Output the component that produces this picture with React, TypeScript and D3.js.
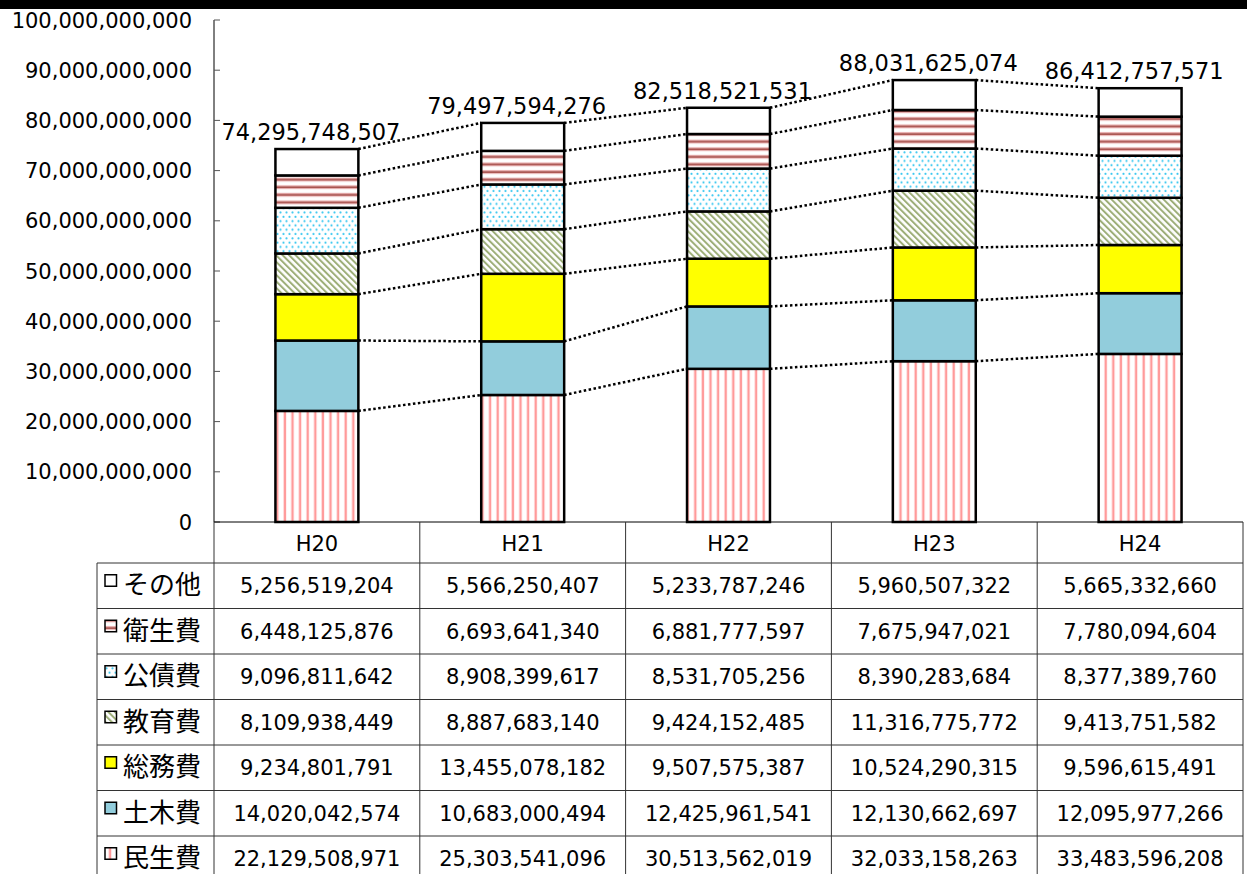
import { useMemo } from "react"
import * as d3 from "d3"

// fiscal years (columns)
const years = ["H20", "H21", "H22", "H23", "H24"]

// categories, stacked bottom -> top
const categories = ["民生費", "土木費", "総務費", "教育費", "公債費", "衛生費", "その他"]

const minsei = [22129508971, 25303541096, 30513562019, 32033158263, 33483596208]
const doboku = [14020042574, 10683000494, 12425961541, 12130662697, 12095977266]
const soumu = [9234801791, 13455078182, 9507575387, 10524290315, 9596615491]
const kyouiku = [8109938449, 8887683140, 9424152485, 11316775772, 9413751582]
const kousai = [9096811642, 8908399617, 8531705256, 8390283684, 8377389760]
const eisei = [6448125876, 6693641340, 6881777597, 7675947021, 7780094604]
const sonota = [5256519204, 5566250407, 5233787246, 5960507322, 5665332660]

const totals = [74295748507, 79497594276, 82518521531, 88031625074, 86412757571]

const yTicks = [0, 1e10, 2e10, 3e10, 4e10, 5e10, 6e10, 7e10, 8e10, 9e10, 1e11]

const seriesValues = [minsei, doboku, soumu, kyouiku, kousai, eisei, sonota]

const fills: Record<string, string> = {
  民生費: "url(#pMinsei)",
  土木費: "#92CDDC",
  総務費: "#FFFF00",
  教育費: "url(#pKyouiku)",
  公債費: "url(#pKousai)",
  衛生費: "url(#pEisei)",
  その他: "#FFFFFF",
}

const W = 1247
const H = 874
const numFont = "'DejaVu Sans', 'Liberation Sans', sans-serif"
const jpFont = "'Noto Sans CJK JP', 'Noto Sans', sans-serif"
const fmt = d3.format(",")

export default function App() {
  const left = 214
  const right = 1243
  const baseY = 522
  const topY = 20

  const y = d3.scaleLinear().domain([0, 1e11]).range([baseY, topY])
  const x = d3.scaleBand<string>().domain(years).range([left, right]).padding(0)
  const barW = x.bandwidth() * 0.403

  const table = useMemo(
    () =>
      years.map((yr, i) => {
        const row: Record<string, number | string> = { year: yr }
        categories.forEach((c, k) => (row[c] = seriesValues[k][i]))
        return row
      }),
    []
  )
  const stacked = d3.stack<Record<string, number | string>>().keys(categories)(table as any)

  const barX = (yr: string) => (x(yr) as number) + (x.bandwidth() - barW) / 2

  // table rows (top -> bottom)
  const rowOrder = [...categories].reverse()
  const headerBottom = 563
  const rowH = 45.5
  const labelLeft = 97

  return (
    <svg
      width={W}
      height={H}
      style={{ position: "absolute", left: 0, top: 0, background: "#fff" }}
    >
      <defs>
        <pattern id="pMinsei" width={7.6} height={10} patternUnits="userSpaceOnUse">
          <rect width={7.6} height={10} fill="#fff" />
          <rect x={2.5} width={2.4} height={10} fill="#FF9A9A" />
        </pattern>
        <pattern id="pEisei" width={10} height={7.6} patternUnits="userSpaceOnUse">
          <rect width={10} height={7.6} fill="#fff" />
          <rect y={2.8} width={10} height={1.2} fill="#E8B0B0" />
          <rect y={4} width={10} height={1.8} fill="#A8504C" />
          <rect y={5.8} width={10} height={1} fill="#E8B0B0" />
        </pattern>
        <pattern id="pKousai" width={6} height={8.6} patternUnits="userSpaceOnUse">
          <rect width={6} height={8.6} fill="#fff" />
          <circle cx={1.5} cy={1.8} r={1.1} fill="#3CC8F0" />
          <circle cx={4.5} cy={6.1} r={1.1} fill="#3CC8F0" />
        </pattern>
        <pattern
          id="pKyouiku"
          width={4.6}
          height={10}
          patternUnits="userSpaceOnUse"
          patternTransform="rotate(-45)"
        >
          <rect width={4.6} height={10} fill="#fff" />
          <rect width={2} height={10} fill="#9DAE78" />
        </pattern>
      </defs>

      {/* top black band */}
      <rect x={0} y={0} width={W} height={9} fill="#000" />

      {/* y axis */}
      <line x1={left} x2={left} y1={topY} y2={baseY} stroke="#000" strokeWidth={1} />
      {yTicks.map((t) => (
        <g key={t}>
          <line x1={left} x2={left + 6} y1={y(t)} y2={y(t)} stroke="#555" strokeWidth={1} />
          <text
            x={192}
            y={y(t)}
            dy="0.36em"
            textAnchor="end"
            fontFamily={numFont}
            fontSize={21}
            fill="#000"
          >
            {fmt(t)}
          </text>
        </g>
      ))}

      {/* dotted connector lines between bars */}
      {stacked.map((s) =>
        years.slice(0, -1).map((yr, i) => (
          <line
            key={s.key + yr}
            x1={barX(yr) + barW}
            y1={y(s[i][1])}
            x2={barX(years[i + 1])}
            y2={y(s[i + 1][1])}
            stroke="#000"
            strokeWidth={2.5}
            strokeDasharray="2.5,2.5"
          />
        ))
      )}

      {/* stacked bars */}
      {stacked.map((s) =>
        s.map((d, i) => (
          <rect
            key={s.key + i}
            x={barX(years[i])}
            y={y(d[1])}
            width={barW}
            height={y(d[0]) - y(d[1])}
            fill={fills[s.key]}
            stroke="#000"
            strokeWidth={2.5}
          />
        ))
      )}

      {/* totals */}
      {years.map((yr, i) => (
        <text
          key={"t" + yr}
          x={(x(yr) as number) + x.bandwidth() / 2 - 6}
          y={y(totals[i]) - 9}
          textAnchor="middle"
          fontFamily={numFont}
          fontSize={22.5}
          fill="#000"
        >
          {fmt(totals[i])}
        </text>
      ))}

      {/* data table */}
      <g stroke="#333" strokeWidth={1}>
        <line x1={left} x2={right} y1={baseY} y2={baseY} stroke="#000" />
        {rowOrder.map((_, r) => (
          <line
            key={"h" + r}
            x1={labelLeft}
            x2={right}
            y1={headerBottom + r * rowH}
            y2={headerBottom + r * rowH}
          />
        ))}
        <line x1={labelLeft} x2={labelLeft} y1={headerBottom} y2={H} />
        <line x1={left} x2={left} y1={baseY} y2={H} />
        {years.map((yr) => (
          <line
            key={"v" + yr}
            x1={(x(yr) as number) + x.bandwidth()}
            x2={(x(yr) as number) + x.bandwidth()}
            y1={baseY}
            y2={H}
          />
        ))}
      </g>

      {years.map((yr) => (
        <text
          key={"hd" + yr}
          x={(x(yr) as number) + x.bandwidth() / 2}
          y={543}
          dy="0.36em"
          textAnchor="middle"
          fontFamily={numFont}
          fontSize={21}
          fill="#000"
        >
          {yr}
        </text>
      ))}

      {rowOrder.map((c, r) => {
        const cy = headerBottom + r * rowH + rowH / 2
        const k = categories.indexOf(c)
        return (
          <g key={"r" + c}>
            <rect
              x={105}
              y={cy - 11}
              width={11.5}
              height={11.5}
              fill={fills[c]}
              stroke="#000"
              strokeWidth={1.5}
            />
            <text
              x={123}
              y={cy}
              dy="0.33em"
              fontFamily={jpFont}
              fontSize={26}
              fill="#000"
            >
              {c}
            </text>
            {years.map((yr, i) => (
              <text
                key={c + yr}
                x={(x(yr) as number) + x.bandwidth() / 2}
                y={cy}
                dy="0.36em"
                textAnchor="middle"
                fontFamily={numFont}
                fontSize={21}
                fill="#000"
              >
                {fmt(seriesValues[k][i])}
              </text>
            ))}
          </g>
        )
      })}
    </svg>
  )
}
